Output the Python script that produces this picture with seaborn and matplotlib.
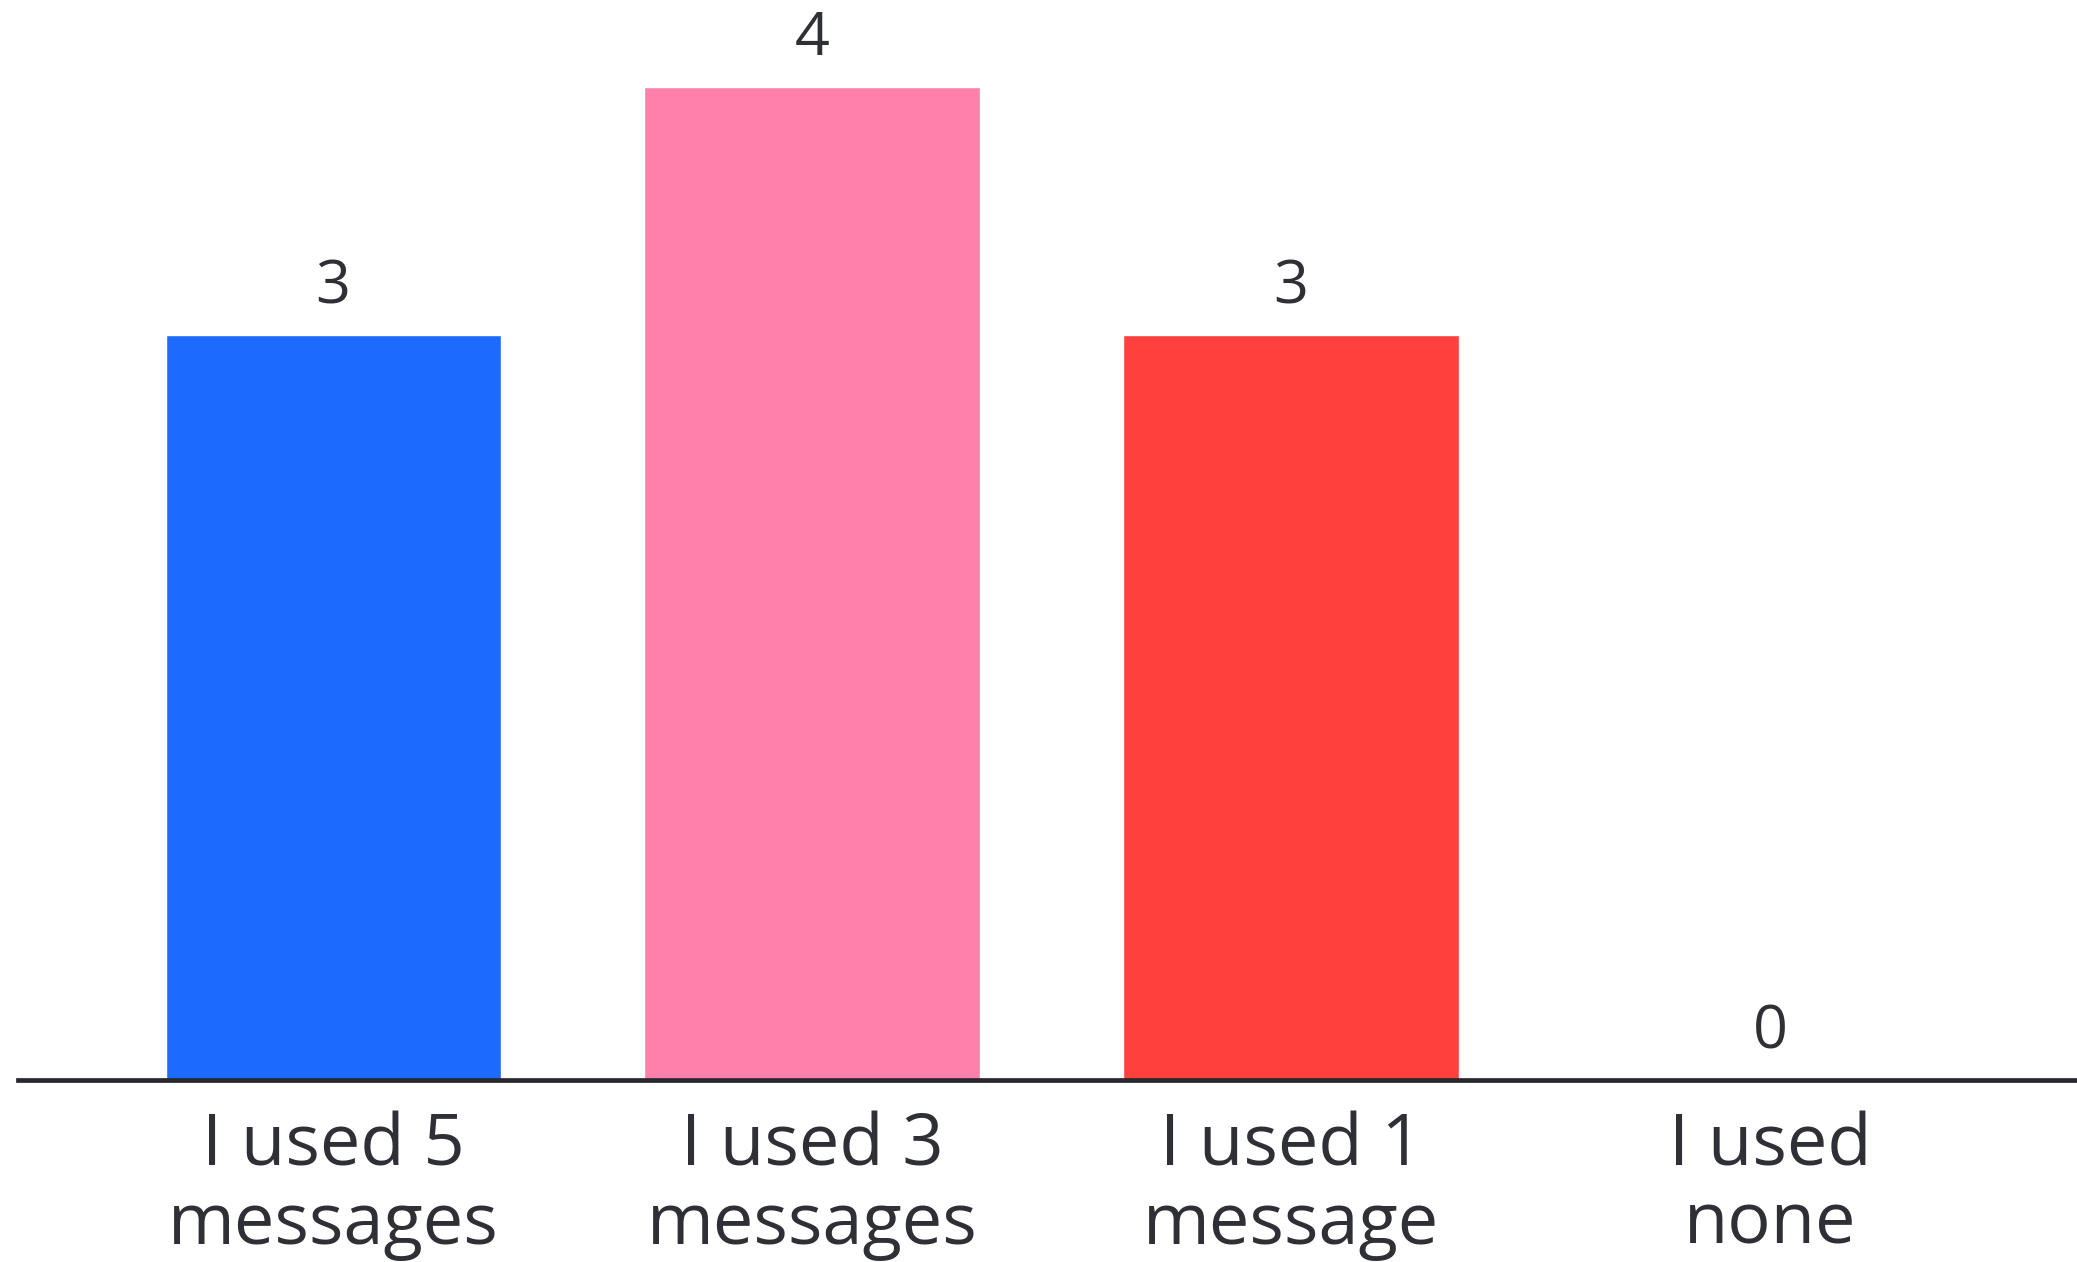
import matplotlib
matplotlib.use("Agg")
import matplotlib.pyplot as plt
import seaborn as sns
import pandas as pd

categories = ["I used 5\nmessages", "I used 3\nmessages", "I used 1\nmessage", "I used\nnone"]
values = [3, 4, 3, 0]
colors = ["#1d6aff", "#ff80aa", "#ff403d", "#2e3ad6"]

sns.set_theme(style="white")
plt.rcParams['font.family'] = ['Open Sans', 'DejaVu Sans']

df = pd.DataFrame({"cat": categories, "val": values})

fig = plt.figure(figsize=(20.77, 12.62), dpi=100)
ax = fig.add_axes([18 / 2077, 0, 1 - 18 / 2077, 1])
sns.barplot(data=df, x="cat", y="val", hue="cat", palette=colors, legend=False,
            width=0.7, ax=ax, saturation=1)

text_color = "#2f3036"
ax.set_xlim(-0.658, 3.641)
ax.set_ylim(-0.733, 4.35)
for s in ["top", "left", "right"]:
    ax.spines[s].set_visible(False)
ax.spines["bottom"].set_position(("data", 0))
ax.spines["bottom"].set_color("#26282e")
ax.spines["bottom"].set_linewidth(3.4)
ax.set_yticks([])
ax.set_xlabel("")
ax.set_ylabel("")
ax.tick_params(axis="x", length=0, pad=22, labelsize=52, labelcolor=text_color)
for lab in ax.get_xticklabels():
    lab.set_linespacing(1.13)

for i, v in enumerate(values):
    ax.annotate(str(v), (i, v), xytext=(0, 18), textcoords="offset pixels",
                ha="center", va="bottom", fontsize=44, color=text_color)

fig.savefig("out.png", dpi=100)
